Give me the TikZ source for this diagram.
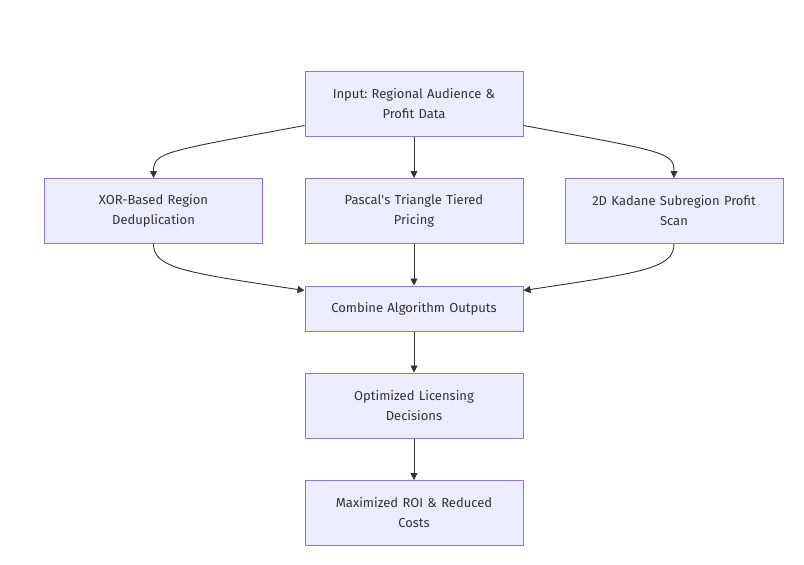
\documentclass[tikz,border=0pt]{standalone}
\usepackage{fontspec}
\setmainfont{Fira Sans}
\usetikzlibrary{arrows.meta}
\definecolor{nodefill}{HTML}{ECECFF}
\definecolor{nodeline}{HTML}{9370DB}
\definecolor{ink}{HTML}{333333}
\tikzset{
  box/.style={draw=nodeline, fill=nodefill, line width=1pt, minimum width=218pt, text width=200pt, align=center, text=ink, font=\fontsize{13}{20}\selectfont\frenchspacing, inner sep=0pt},
  tall/.style={box, minimum height=65pt},
  short/.style={box, minimum height=45pt},
  link/.style={draw=ink, line width=0.9pt, -{Triangle[length=7pt,width=7pt]}}
}
\begin{document}
\begin{tikzpicture}[x=1pt,y=-1pt]
\useasboundingbox (0,0) rectangle (804,565);
\node[tall] (in) at (414,103.5) {Input: Regional Audience \&\\Profit Data};
\node[tall] (xor) at (153.5,211) {XOR-Based Region\\Deduplication};
\node[tall] (pas) at (414,211) {Pascal\textquotesingle s Triangle Tiered\\Pricing};
\node[tall] (kad) at (674,211) {2D Kadane Subregion Profit\\Scan};
\node[short] (comb) at (414,308.5) {Combine Algorithm Outputs};
\node[tall] (opt) at (414,405.5) {Optimized Licensing\\Decisions};
\node[tall] (max) at (414,513) {Maximized ROI \& Reduced\\Costs};
\draw[link] ([yshift=-22pt]in.west) .. controls +(-140,26) and +(0,-26) .. (xor.north);
\draw[link] (in.south) -- (pas.north);
\draw[link] ([yshift=-22pt]in.east) .. controls +(140,26) and +(0,-26) .. (kad.north);
\draw[link] (xor.south) .. controls +(0,24) and +(-120,-18) .. ([yshift=18pt]comb.west);
\draw[link] (pas.south) -- (comb.north);
\draw[link] (kad.south) .. controls +(0,24) and +(120,-18) .. ([yshift=18pt]comb.east);
\draw[link] (comb.south) -- (opt.north);
\draw[link] (opt.south) -- (max.north);
\end{tikzpicture}
\end{document}
